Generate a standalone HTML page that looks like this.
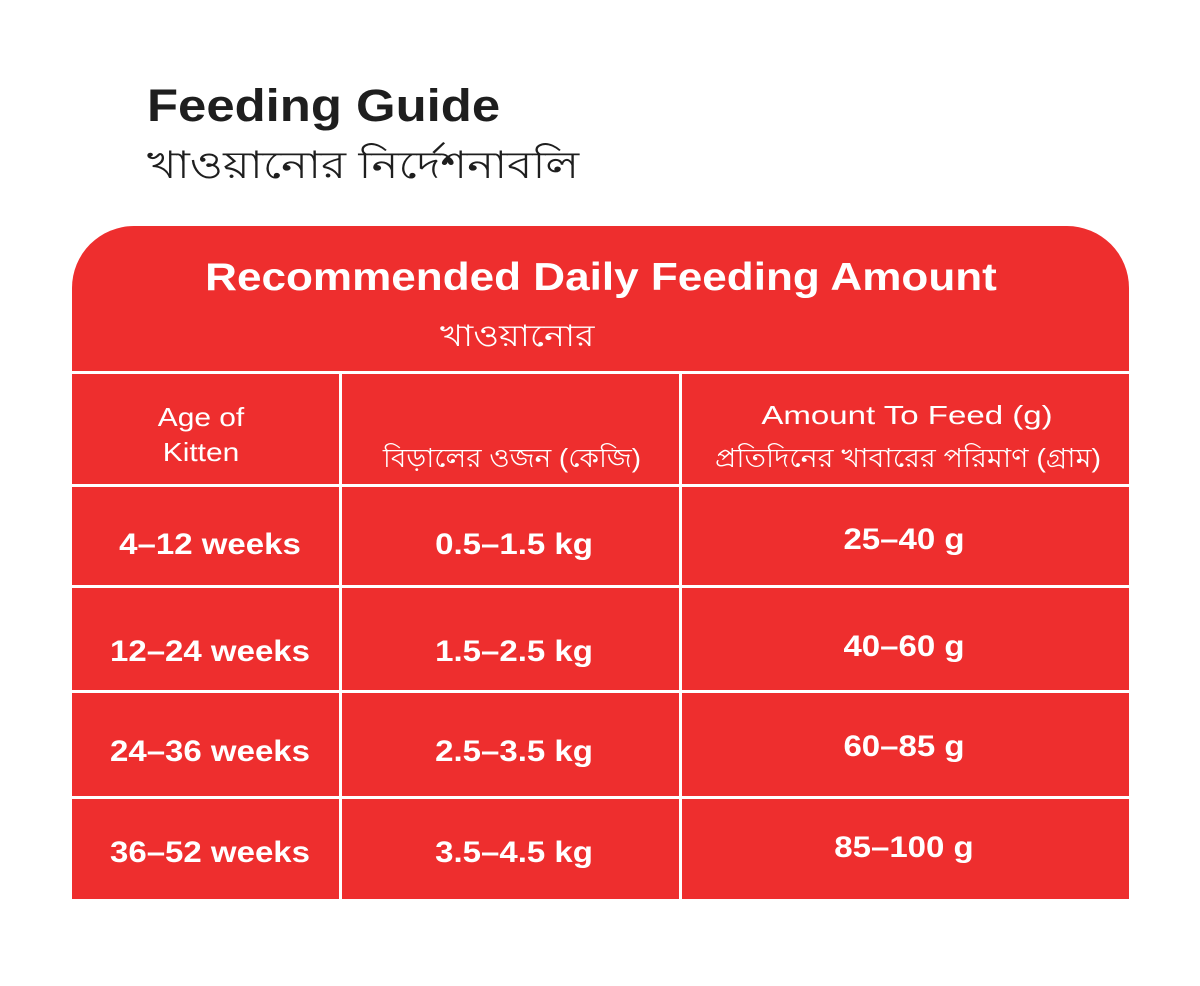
<!DOCTYPE html>
<html><head><meta charset="utf-8"><style>
body{margin:0;width:1200px;height:986px;background:#fff;position:relative;overflow:hidden;font-family:"Liberation Sans","DejaVu Sans",sans-serif}
.a{position:absolute;white-space:nowrap}
.box{position:absolute;left:72px;top:226px;width:1057px;height:673px;background:#ee2e2e;border-radius:62px 62px 0 0}
.h{position:absolute;background:#fff;height:3px;left:72px;width:1057px}
.v{position:absolute;background:#fff;width:3px}
.w{color:#fff}
.c{text-align:center}
.b{font-weight:bold;font-size:30px;transform:translateX(-50%) scaleX(1.1)}
.n{font-size:26px}
</style></head><body>
<div class="a" style="left:147px;top:80px;font-size:45px;font-weight:bold;color:#1e1e1e;transform-origin:0 0;transform:scaleX(1.13)">Feeding Guide</div>
<div class="a" style="left:147px;top:136px;font-size:38px;color:#1e1e1e;transform-origin:0 0;transform:scaleX(1.19)">খাওয়ানোর নির্দেশনাবলি</div>
<div class="box"></div>
<div class="a w c" style="left:601px;top:256px;font-size:39px;font-weight:bold;transform:translateX(-50%) scaleX(1.13)">Recommended Daily Feeding Amount</div>
<div class="a w" style="left:440px;top:312px;font-size:30px;transform-origin:0 0;transform:scaleX(1.17)">খাওয়ানোর</div>
<div class="h" style="top:371px"></div>
<div class="h" style="top:484px"></div>
<div class="h" style="top:585px"></div>
<div class="h" style="top:690px"></div>
<div class="h" style="top:796px"></div>
<div class="v" style="left:339px;top:371px;height:528px"></div>
<div class="v" style="left:679px;top:371px;height:528px"></div>
<div class="a w c n" style="left:201px;top:400px;line-height:35px;transform:translateX(-50%) scaleX(1.15)">Age of<br>Kitten</div>
<div class="a w c n" style="left:512px;top:438px;transform:translateX(-50%) scaleX(1.07)">বিড়ালের ওজন (কেজি)</div>
<div class="a w c n" style="left:907px;top:400px;transform:translateX(-50%) scaleX(1.27)">Amount To Feed (g)</div>
<div class="a w c n" style="left:908px;top:438px;transform:translateX(-50%) scaleX(1.1)">প্রতিদিনের খাবারের পরিমাণ (গ্রাম)</div>
<div class="a w c b" style="left:210px;top:528px">4–12 weeks</div>
<div class="a w c b" style="left:514px;top:528px">0.5–1.5 kg</div>
<div class="a w c b" style="left:904px;top:523px">25–40 g</div>
<div class="a w c b" style="left:210px;top:635px">12–24 weeks</div>
<div class="a w c b" style="left:514px;top:635px">1.5–2.5 kg</div>
<div class="a w c b" style="left:904px;top:630px">40–60 g</div>
<div class="a w c b" style="left:210px;top:735px">24–36 weeks</div>
<div class="a w c b" style="left:514px;top:735px">2.5–3.5 kg</div>
<div class="a w c b" style="left:904px;top:730px">60–85 g</div>
<div class="a w c b" style="left:210px;top:836px">36–52 weeks</div>
<div class="a w c b" style="left:514px;top:836px">3.5–4.5 kg</div>
<div class="a w c b" style="left:904px;top:831px">85–100 g</div>
</body></html>
